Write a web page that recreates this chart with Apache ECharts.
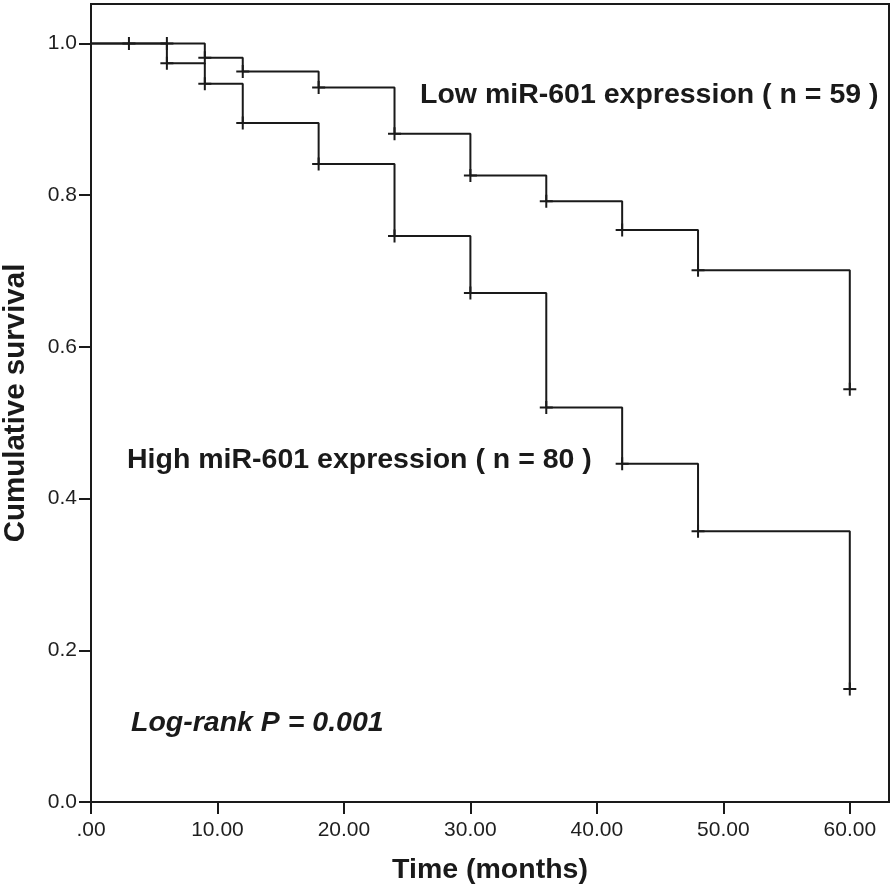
<!DOCTYPE html>
<html>
<head>
<meta charset="utf-8">
<script src="https://cdn.jsdelivr.net/npm/echarts@6/dist/echarts.min.js"></script>
<style>
html,body{margin:0;padding:0;background:#fff;}
#chart{width:894px;height:894px;}
</style>
</head>
<body>
<div id="chart"></div>
<script>
// ---- data ----
const timesLow  = [0, 3, 6, 9, 12, 18, 24, 30, 36, 42, 48, 60];
const survLow   = [1.0, 1.0, 1.0, 0.981, 0.963, 0.942, 0.881, 0.826, 0.792, 0.754, 0.701, 0.544];
const timesHigh = [0, 6, 9, 12, 18, 24, 30, 36, 42, 48, 60];
const survHigh  = [1.0, 0.974, 0.947, 0.895, 0.841, 0.746, 0.671, 0.520, 0.446, 0.357, 0.149];
const xTickValues = [0, 10, 20, 30, 40, 50, 60];
const xTickLabels = ['.00', '10.00', '20.00', '30.00', '40.00', '50.00', '60.00'];
const yTickValues = [0, 0.2, 0.4, 0.6, 0.8, 1.0];
const yTickLabels = ['0.0', '0.2', '0.4', '0.6', '0.8', '1.0'];
const labelLow  = 'Low miR-601 expression ( n = 59 )';
const labelHigh = 'High miR-601 expression ( n = 80 )';
const labelP    = 'Log-rank P = 0.001';
const xTitle = 'Time (months)';
const yTitle = 'Cumulative survival';

const FONT = '"Liberation Sans", Arial, sans-serif';
const INK = '#1a1a1a';
const PLUS = 'path://M5.5,0H7.5V5.5H13V7.5H7.5V13H5.5V7.5H0V5.5H5.5Z';

function kmData(ts, ss) {
  return ts.map((t, i) => i === 0 ? { value: [t, ss[i]], symbol: 'none' } : [t, ss[i]]);
}

const chart = echarts.init(document.getElementById('chart'), null, { renderer: 'canvas' });

const xMap = {}; xTickValues.forEach((v, i) => xMap[v] = xTickLabels[i]);
const yMap = {}; yTickValues.forEach((v, i) => yMap[v.toFixed(1)] = yTickLabels[i]);

chart.setOption({
  animation: false,
  backgroundColor: '#fff',
  grid: { left: 91, right: 5, top: 4, bottom: 92, containLabel: false, outerBoundsMode: 'none',
    show: true, borderColor: INK, borderWidth: 2, backgroundColor: 'transparent' },
  xAxis: {
    type: 'value', min: 0, max: 63.1,
    name: xTitle, nameLocation: 'middle', nameGap: 54,
    nameTextStyle: { fontFamily: FONT, fontWeight: 'bold', fontSize: 28.5, color: INK },
    axisLine: { show: true, lineStyle: { color: INK, width: 2 } },
    axisTick: { show: true, length: 12, lineStyle: { color: INK, width: 2 }, customValues: xTickValues },
    axisLabel: { margin: 18, fontFamily: FONT, fontSize: 21, color: '#1e1e1e', customValues: xTickValues,
      formatter: v => xMap[v] !== undefined ? xMap[v] : '' },
    splitLine: { show: false }
  },
  yAxis: {
    type: 'value', min: 0, max: 1.052,
    name: yTitle, nameLocation: 'middle', nameGap: 60, nameRotate: 90,
    nameTextStyle: { fontFamily: FONT, fontWeight: 'bold', fontSize: 29.5, color: INK },
    axisLine: { show: true, lineStyle: { color: INK, width: 2 } },
    axisTick: { show: true, length: 12, lineStyle: { color: INK, width: 2 }, customValues: yTickValues },
    axisLabel: { margin: 14, fontFamily: FONT, fontSize: 21, color: '#1e1e1e', customValues: yTickValues,
      formatter: v => yMap[(+v).toFixed(1)] !== undefined ? yMap[(+v).toFixed(1)] : '' },
    splitLine: { show: false }
  },
  series: [
    {
      name: 'Low', type: 'line', step: 'end',
      data: kmData(timesLow, survLow),
      lineStyle: { color: INK, width: 2 },
      itemStyle: { color: INK },
      symbol: PLUS, symbolSize: 13, showSymbol: true, showAllSymbol: true
    },
    {
      name: 'High', type: 'line', step: 'end',
      data: kmData(timesHigh, survHigh),
      lineStyle: { color: INK, width: 2 },
      itemStyle: { color: INK },
      symbol: PLUS, symbolSize: 13, showSymbol: true, showAllSymbol: true
    }
  ],
  graphic: [
    { type: 'text', left: 420, top: 81, style: { text: labelLow, font: 'bold 28.5px ' + FONT, fill: INK } },
    { type: 'text', left: 127, top: 446, style: { text: labelHigh, font: 'bold 28.5px ' + FONT, fill: INK } },
    { type: 'text', left: 131, top: 709, style: { text: labelP, font: 'italic bold 28.5px ' + FONT, fill: INK } }
  ]
});
</script>
</body>
</html>
